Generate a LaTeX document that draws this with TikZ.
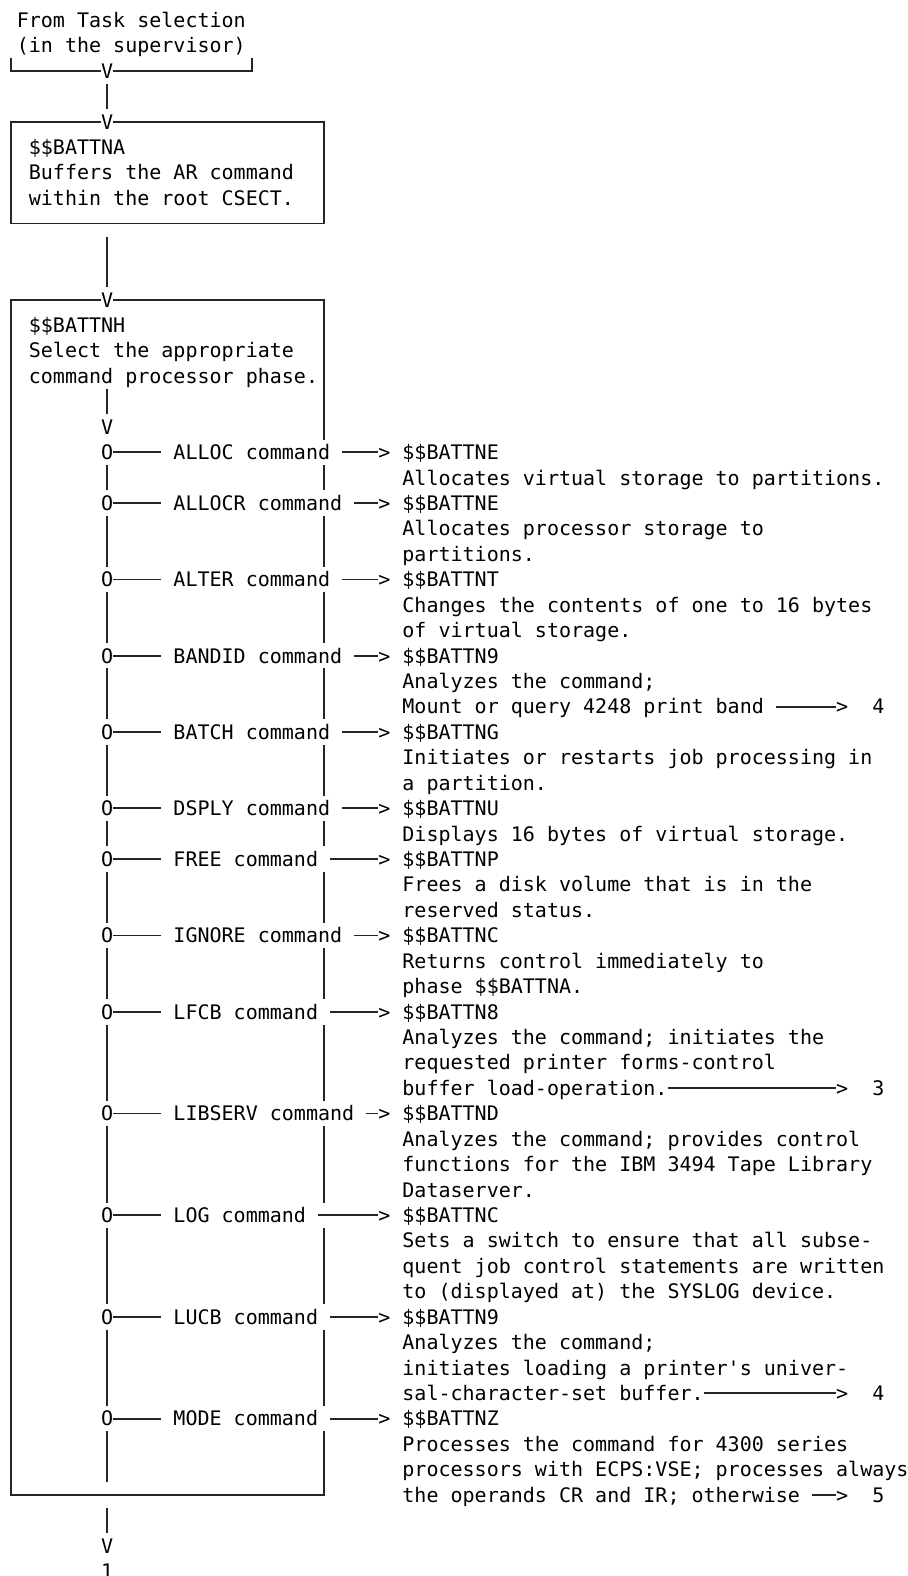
\documentclass[tikz,border=0pt]{standalone}
\usepackage{fontspec}
\setmonofont{DejaVu Sans Mono}
\usetikzlibrary{calc}
\begin{document}
\begin{tikzpicture}[x=6.025pt,y=-12.715pt,
  txt/.style={anchor=west, inner sep=0pt, outer sep=0pt, text height=10.0075pt, text depth=2.7075pt,
    font=\ttfamily\fontsize{10.0075pt}{12.715pt}\selectfont, text=black},
  glyph/.style={txt, anchor=center, minimum width=6.025pt},
  ln/.style={draw=black!85, line width=0.95pt},
  boxA/.style={ln, rectangle, minimum width=156.65pt, minimum height=50.86pt, inner sep=0pt}]
\useasboundingbox (-0.89627,-0.786475) rectangle (74.3734,61.187574);
% source
\node[txt] (srcA) at (0.5,0) {From Task selection};
\node[txt] (srcB) at (0.5,1) {(in the supervisor)};
\node[glyph] (vSrc) at (8,2) {V};
\draw[ln] (0,1.5) -- (0,2) -- (vSrc.west);
\draw[ln] (vSrc.east) -- (20,2) -- (20,1.5);
% box A
\node[boxA] (A) at (13,6) {};
\node[glyph, fill=white] (vA) at (8,4) {V};
\draw[ln] (vSrc.south) -- (vA.north);
\node[txt] (aName) at (1.5,5) {\$\$BATTNA};
\node[txt] (aL1) at (1.5,6) {Buffers the AR command};
\node[txt] (aL2) at (1.5,7) {within the root CSECT.};
% box H
\node[glyph] (vH) at (8,11) {V};
\draw[ln] ($(A.south -| vH)+(0,0.5)$) -- (vH.north);
\draw[ln] (vH.west) -- (0,11) -- (0,58) -- (26,58) -- (26,55.5);
\draw[ln] (vH.east) -- (26,11) -- (26,16.5);
\foreach \ya/\yb in {17.5/18.5, 19.5/21.5, 22.5/24.5, 25.5/27.5, 28.5/30.5, 31.5/32.5, 33.5/35.5, 36.5/38.5, 39.5/42.5, 43.5/46.5, 47.5/50.5, 51.5/54.5}
  \draw[ln] (26,\ya) -- (26,\yb);
\node[txt] (hName) at (1.5,12) {\$\$BATTNH};
\node[txt] (hL1) at (1.5,13) {Select the appropriate};
\node[txt] (hL2) at (1.5,14) {command processor phase.};
\node[glyph] (vSel) at (8,16) {V};
\draw[ln] (vSel |- hL2.south) -- (vSel.north);
% commands
\foreach \ii/\rw/\cm/\ph in {1/17/ALLOC/E, 2/19/ALLOCR/E, 3/22/ALTER/T, 4/25/BANDID/9, 5/28/BATCH/G, 6/31/DSPLY/U, 7/33/FREE/P, 8/36/IGNORE/C, 9/39/LFCB/8, 10/43/LIBSERV/D, 11/47/LOG/C, 12/51/LUCB/9, 13/55/MODE/Z} {
  \node[glyph] (o\ii) at (8,\rw) {O};
  \node[txt] (cmd\ii) at (13.5,\rw) {\cm{} command};
  \node[glyph] (g\ii) at (31,\rw) {>};
  \node[txt] (p\ii) at (32.5,\rw) {\$\$BATTN\ph};
  \draw[ln] (o\ii.east) -- ([xshift=-6.025pt]cmd\ii.west);
  \draw[ln] ([xshift=6.025pt]cmd\ii.east) -- (g\ii.west);
}
\foreach \a/\b in {1/2,2/3,3/4,4/5,5/6,6/7,7/8,8/9,9/10,10/11,11/12,12/13}
  \draw[ln] (o\a.south) -- (o\b.north);
\coordinate (Hbot) at (8,58);
\draw[ln] (o13.south) -- ($(Hbot)+(0,-0.5)$);
\node[glyph] (vEnd) at (8,60) {V};
\node[glyph] (endOne) at (8,61) {1};
\draw[ln] ($(Hbot)+(0,0.5)$) -- (vEnd.north);
% descriptions
\foreach \rw/\tx in {
  18/{Allocates virtual storage to partitions.},
  20/{Allocates processor storage to},
  21/{partitions.},
  23/{Changes the contents of one to 16 bytes},
  24/{of virtual storage.},
  26/{Analyzes the command;},
  27/{Mount or query 4248 print band},
  29/{Initiates or restarts job processing in},
  30/{a partition.},
  32/{Displays 16 bytes of virtual storage.},
  34/{Frees a disk volume that is in the},
  35/{reserved status.},
  37/{Returns control immediately to},
  38/{phase \$\$BATTNA.},
  40/{Analyzes the command; initiates the},
  41/{requested printer forms-control},
  42/{buffer load-operation.},
  44/{Analyzes the command; provides control},
  45/{functions for the IBM 3494 Tape Library},
  46/{Dataserver.},
  48/{Sets a switch to ensure that all subse-},
  49/{quent job control statements are written},
  50/{to (displayed at) the SYSLOG device.},
  52/{Analyzes the command;},
  53/{initiates loading a printer's univer-},
  54/{sal-character-set buffer.},
  56/{Processes the command for 4300 series},
  57/{processors with ECPS:VSE; processes always},
  58/{the operands CR and IR; otherwise}}
  \node[txt] (d\rw) at (32.5,\rw) {\tx};
% exits
\node[glyph] (xa) at (69,27) {>};
\node[glyph] (na) at (72,27) {4};
\draw[ln] ([xshift=6.025pt]d27.east) -- (xa.west);
\node[glyph] (xb) at (69,42) {>};
\node[glyph] (nb) at (72,42) {3};
\draw[ln] (d42.east) -- (xb.west);
\node[glyph] (xc) at (69,54) {>};
\node[glyph] (nc) at (72,54) {4};
\draw[ln] (d54.east) -- (xc.west);
\node[glyph] (xd) at (69,58) {>};
\node[glyph] (nd) at (72,58) {5};
\draw[ln] ([xshift=6.025pt]d58.east) -- (xd.west);
\end{tikzpicture}
\end{document}
